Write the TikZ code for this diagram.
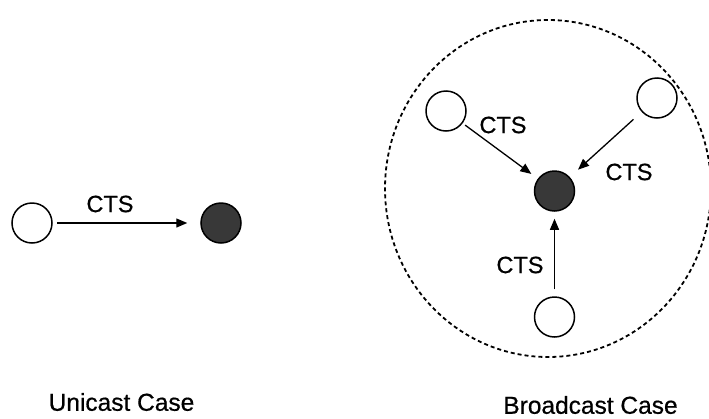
\documentclass[tikz,border=0pt]{standalone}
\usepackage{fontspec}
\setmainfont{Liberation Sans}[FakeBold=0.6]
\usetikzlibrary{arrows.meta}
\begin{document}
\begin{tikzpicture}[x=1pt,y=-1pt,
  station/.style={circle,draw,line width=1.5pt,minimum size=40pt,inner sep=0pt},
  target/.style={station,fill=black!78},
  msg/.style={-{Triangle[length=11pt,width=9pt]},line width=1.3pt},
  lbl/.style={font=\fontsize{23.5}{28}\selectfont,inner sep=0pt},
  caption/.style={font=\fontsize{24.5}{29}\selectfont,inner sep=0pt}]
\useasboundingbox (0,0) rectangle (709,418);
% unicast
\node[station] (u1) at (32,223) {};
\node[target] (u2) at (221,223) {};
\draw[msg,shorten <=4pt,shorten >=13pt] (u1) -- (u2);
\node[lbl] (ul) at (110,204) {CTS};
\node[caption] (uc) at (121.5,402) {Unicast Case};
% broadcast
\draw[dash pattern=on 4pt off 3pt,line width=1.8pt] (548,188.5) ellipse [x radius=163, y radius=168.5];
\node[target] (c) at (554.5,191) {};
\node[station] (a) at (446,111) {};
\node[station] (b) at (657,98) {};
\node[station] (d) at (554.5,317) {};
\draw[msg,shorten <=3pt,shorten >=8pt] (a) -- (c);
\draw[msg,shorten <=11pt,shorten >=11pt] (b) -- (c);
\draw[msg,shorten <=7pt,shorten >=7pt] (d) -- (c);
\node[lbl] (al) at (503,125) {CTS};
\node[lbl] (bl) at (629,172) {CTS};
\node[lbl] (dl) at (520,265) {CTS};
\node[caption] (bc) at (590.5,405) {Broadcast Case};
\end{tikzpicture}
\end{document}
